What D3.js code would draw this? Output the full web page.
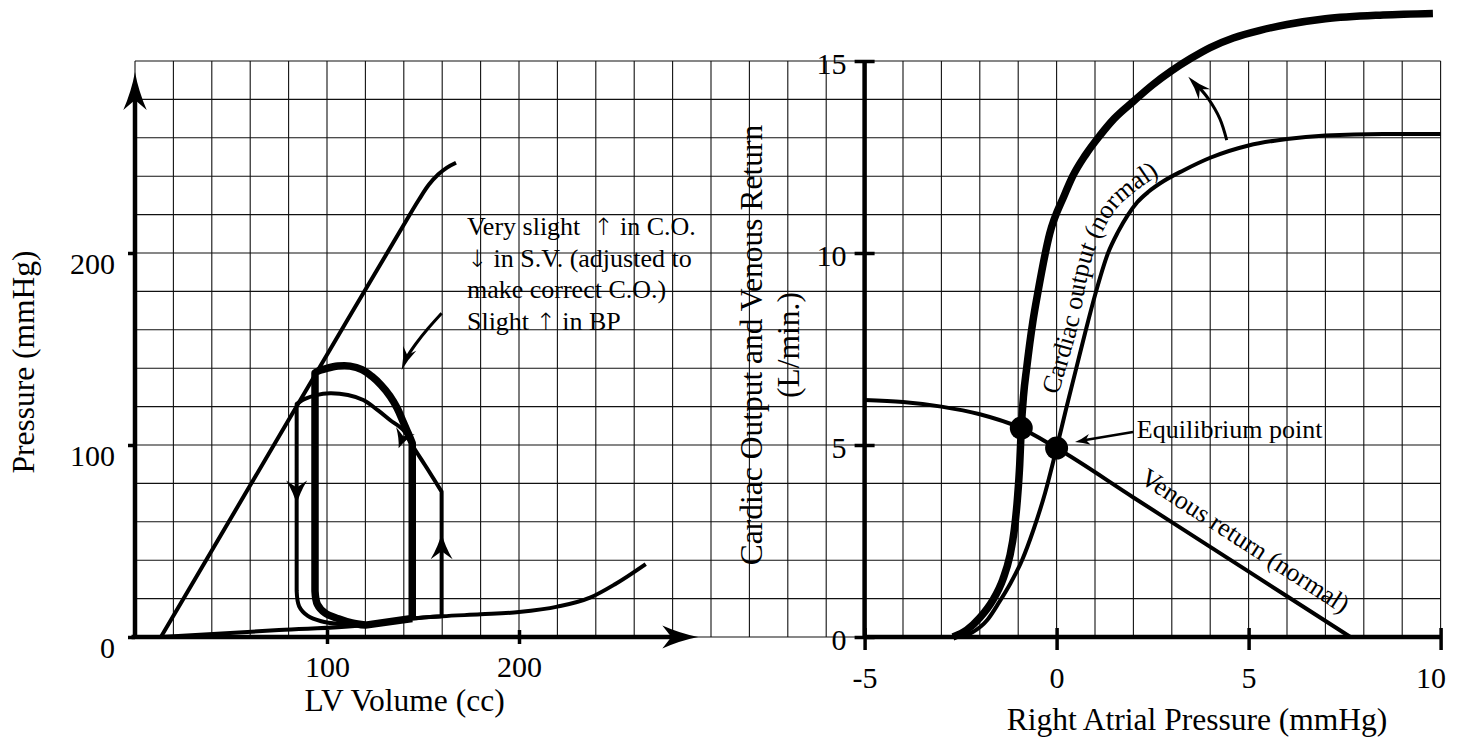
<!DOCTYPE html>
<html>
<head>
<meta charset="utf-8">
<script src="https://cdn.jsdelivr.net/npm/d3@7"></script>
<style>
  body { margin: 0; background: #fff; }
  svg { display: block; }
  text { font-family: "Liberation Serif", "Times New Roman", serif; fill: #000; }
</style>
</head>
<body>
<div id="chart"></div>
<script>
// ---------- data ----------
// left panel: LV volume (cc) vs pressure (mmHg)
const espvr = [[13.5, 0], [60, 79], [100, 147], [139, 213], [148, 228], [153, 235.5], [158, 241], [162.5, 244.5], [167.2, 247]];
const edpvr = [[13.5, 0], [75, 3.6], [120, 6.2], [144, 9.6], [160, 10.8], [180, 11.8], [200, 13], [220, 15.8], [237, 20.5], [250, 27.5], [266, 38]];

// normal PV loop (thin), split into pieces
const thinUp = [[159.7, 10.8], [159.7, 75.7]];
const thinTop = [[159.7, 75.7], [156.25, 81.25], [151, 89.6], [144.9, 99.1], [139.7, 107.8], [132.8, 113], [126.6, 118], [118.9, 123.4], [110.9, 126], [101.6, 126.9], [94.3, 126], [88.5, 124], [85.9, 122.5], [84.2, 121.4]];
const thinDown = [[84.2, 121.4], [84.2, 24]];
const thinBottom = [[84.2, 24], [85.5, 16], [90, 11], [97, 8.2], [106, 6.8], [120, 6.2]];
const thinFill = [[120, 6.2], [144, 9.6], [159.7, 10.8]];

// new PV loop (thick)
const thickUp = [[144.4, 9.6], [144.4, 101]];
const thickTop = [[144.4, 101], [142.2, 106.25], [139.7, 112], [136.5, 119.3], [132.8, 125.5], [128.1, 131.25], [123.4, 135.7], [118.2, 139.3], [112, 141.1], [105.7, 141.1], [99.5, 139.8], [95.3, 138.5], [93.75, 137.5]];
const thickDown = [[93.75, 137.5], [93.75, 24]];
const thickBottom = [[93.75, 24], [95, 17], [99, 12.5], [106, 9.5], [113, 7.3], [120, 6.2]];
const thickFill = [[120, 6.2], [144.4, 9.6]];

const leftYTicks = [0, 100, 200];
const leftXTicks = [100, 200];
const noteLines = ["Very slight\u00a0 \u2191 in C.O.", "\u2193 in S.V. (adjusted to", "make correct C.O.)", "Slight \u2191 in BP"];

// right panel: right atrial pressure (mmHg) vs L/min
const coNormal = [[-2.6, 0], [-2.2, 0.12], [-1.8, 0.45], [-1.5, 0.9], [-1.2, 1.4], [-0.9, 2.0], [-0.6, 2.8], [-0.3, 3.75], [0, 4.92], [0.25, 5.95], [0.5, 6.95], [0.75, 7.95], [1.0, 8.9], [1.34, 10.0], [1.6, 10.55], [1.85, 10.98], [2.1, 11.32], [2.4, 11.6], [2.8, 11.88], [3.3, 12.15], [4.0, 12.48], [5.0, 12.8], [6.0, 12.97], [7.0, 13.06], [8.5, 13.1], [10, 13.1]];
const coRaised = [[-2.7, 0], [-2.34, 0.18], [-2.0, 0.5], [-1.66, 0.96], [-1.4, 1.5], [-1.22, 2.1], [-1.1, 2.8], [-1.02, 3.6], [-0.96, 4.5], [-0.92, 5.44], [-0.86, 6.3], [-0.78, 7.0], [-0.62, 8.2], [-0.49, 8.96], [-0.18, 10.5], [0.2, 11.5], [0.42, 12.0], [0.75, 12.55], [1.12, 13.05], [1.5, 13.5], [2.0, 13.95], [2.5, 14.38], [3.0, 14.75], [3.5, 15.07], [4.0, 15.35], [4.6, 15.6], [5.3, 15.8], [6.0, 15.95], [7.0, 16.1], [8.5, 16.2], [9.8, 16.24]];
const venousReturn = [[-5, 6.17], [-4, 6.12], [-3, 6.0], [-2, 5.8], [-1, 5.47], [0, 4.92], [2, 3.634], [4, 2.348], [6, 1.061], [7.65, 0]];
const equilibria = [[-0.92, 5.44], [0, 4.92]];
// baseline of the curved "Cardiac output (normal)" label
const coLabelPath = [[0.04, 6.3], [0.53, 8.0], [0.97, 10.0], [1.6, 11.2], [2.7, 12.05]];

const rightYTicks = [0, 5, 10, 15];
const rightXTicks = [-5, 0, 5, 10];

// ---------- layout ----------
const W = 1463, H = 740;
const gx0 = 135, cell = 38.4, cols = 34, rows = 15;
const gx1 = gx0 + cols * cell, gy0 = 61, gy1 = gy0 + rows * cell;

const thin = 4, thick = 7.5, axisW = 4.5;

const svg = d3.select("#chart").append("svg").attr("width", W).attr("height", H);

// one graph-paper grid shared by both panels
const xL = d3.scaleLinear().domain([0, 680]).range([gx0, gx1]);
const yL = d3.scaleLinear().domain([0, 300]).range([gy1, gy0]);
const xR = d3.scaleLinear().domain([-24, 10]).range([gx0, gx1]);
const yR = d3.scaleLinear().domain([0, 15]).range([gy1, gy0]);

const grid = svg.append("g").attr("stroke", "#111").attr("stroke-width", 1.1);
grid.selectAll("line.v").data(d3.range(-24, 11)).enter().append("line")
  .attr("class", "v")
  .attr("x1", d => xR(d)).attr("x2", d => xR(d))
  .attr("y1", gy0).attr("y2", gy1);
grid.selectAll("line.h").data(d3.range(0, 16)).enter().append("line")
  .attr("class", "h")
  .attr("x1", gx0).attr("x2", gx1)
  .attr("y1", d => yR(d)).attr("y2", d => yR(d));

// helpers
const lineL = curve => d3.line().x(d => xL(d[0])).y(d => yL(d[1])).curve(curve);
const lineR = curve => d3.line().x(d => xR(d[0])).y(d => yR(d[1])).curve(curve);

const joinPath = parts => parts.map((p, i) => i ? p.replace(/^M/, "L") : p).join("");

const curvePath = (sel, d, w) => sel.append("path")
  .attr("d", d)
  .attr("fill", "none")
  .attr("stroke", "#000")
  .attr("stroke-width", w)
  .attr("stroke-linejoin", "round");

// arrow head with slightly concave sides; tip and from in pixels
function arrowHead(sel, tip, from, len, hw, notch) {
  const a = Math.atan2(tip[1] - from[1], tip[0] - from[0]);
  const ux = Math.cos(a), uy = Math.sin(a), px = -uy, py = ux;
  const b = [tip[0] - ux * len, tip[1] - uy * len];
  const n = [tip[0] - ux * notch, tip[1] - uy * notch];
  const w1 = [b[0] + px * hw, b[1] + py * hw], w2 = [b[0] - px * hw, b[1] - py * hw];
  const m = [tip[0] - ux * len * 0.5, tip[1] - uy * len * 0.5];
  const c1 = [m[0] + px * hw * 0.3, m[1] + py * hw * 0.3], c2 = [m[0] - px * hw * 0.3, m[1] - py * hw * 0.3];
  sel.append("path")
    .attr("d", `M${tip}Q${c1} ${w1}L${n}L${w2}Q${c2} ${tip}Z`)
    .attr("fill", "#000");
}

// ---------- left panel ----------
const left = svg.append("g");
curvePath(left, lineL(d3.curveMonotoneX)(espvr), thin);
curvePath(left, lineL(d3.curveMonotoneX)(edpvr), thin);

const lin = lineL(d3.curveLinear), cat = lineL(d3.curveCatmullRom.alpha(0.5));
curvePath(left, joinPath([lin(thinUp), cat(thinTop), lin(thinDown), cat(thinBottom), cat(thinFill)]), thin);
curvePath(left, joinPath([lin(thickUp), cat(thickTop), lin(thickDown), cat(thickBottom), lin(thickFill)]), thick);

// direction arrows on the loops
arrowHead(left, [xL(84.2), yL(69)], [xL(84.2), yL(90)], 24, 10.5, 17);
arrowHead(left, [xL(159.7), yL(54)], [xL(159.7), yL(30)], 26, 11, 18);
arrowHead(left, [xL(137.3), yL(98.3)], [xL(140.8), yL(107.4)], 19, 10, 13);

// note and its curved pointer (arrow glyphs set in a font that draws them tall)
const note = left.append("text").attr("font-size", 26).style("white-space", "pre");
noteLines.forEach((line, i) => {
  const parts = line.split(/([\u2191\u2193])/).filter(s => s.length);
  parts.forEach((p, j) => {
    const t = note.append("tspan").text(p);
    if (j === 0) t.attr("x", xL(172.9)).attr("y", yL(209.4) + i * 31.7);
    if (/[\u2191\u2193]/.test(p)) t.attr("font-family", "DejaVu Sans").attr("font-size", 24).attr("font-weight", 200);
  });
});

const pointer = [[159.7, 168.6], [152.5, 160.5], [146.5, 153], [142, 146.5]];
curvePath(left, lineL(d3.curveCatmullRom)(pointer), 3);
arrowHead(left, [xL(138.9), yL(139.1)], [xL(142.4), yL(148.5)], 23, 7, 16);

// axes
const lAxis = left.append("g").attr("stroke", "#000").attr("stroke-width", axisW);
lAxis.append("line").attr("x1", xL(0)).attr("x2", xL(0)).attr("y1", yL(0) + 2).attr("y2", yL(280));
lAxis.append("line").attr("x1", xL(0) - 3.5).attr("x2", xL(285)).attr("y1", yL(0)).attr("y2", yL(0));
arrowHead(left, [xL(0), yL(294.3)], [xL(0), yL(200)], 38, 11.7, 28);
arrowHead(left, [xL(293.4), yL(0)], [xL(200), yL(0)], 36, 11.5, 27);

const yAxisL = left.append("g").attr("transform", `translate(${xL(0)},0)`)
  .call(d3.axisLeft(yL).tickValues(leftYTicks).tickSize(7).tickFormat(d => String(d)));
const xAxisL = left.append("g").attr("transform", `translate(0,${yL(0)})`)
  .call(d3.axisBottom(xL).tickValues(leftXTicks).tickSize(7).tickFormat(d => String(d)));

// ---------- right panel ----------
const right = svg.append("g");
curvePath(right, lineR(d3.curveMonotoneX)(venousReturn), thin);
curvePath(right, lineR(d3.curveMonotoneX)(coNormal), thin);
curvePath(right, lineR(d3.curveMonotoneX)(coRaised), thick);

right.selectAll("circle").data(equilibria).enter().append("circle")
  .attr("cx", d => xR(d[0])).attr("cy", d => yR(d[1])).attr("r", 11.5).attr("fill", "#000");

const rAxis = right.append("g").attr("stroke", "#000").attr("stroke-width", axisW);
rAxis.append("line").attr("x1", xR(-5)).attr("x2", xR(-5)).attr("y1", yR(0)).attr("y2", yR(15));
rAxis.append("line").attr("x1", xR(-5)).attr("x2", xR(10)).attr("y1", yR(0)).attr("y2", yR(0));

const yAxisR = right.append("g").attr("transform", `translate(${xR(-5)},0)`)
  .call(d3.axisLeft(yR).tickValues(rightYTicks).tickSize(10).tickFormat(d => String(d)));
const xAxisR = right.append("g").attr("transform", `translate(0,${yR(0)})`)
  .call(d3.axisBottom(xR).tickValues(rightXTicks).tickSize(13).tickFormat(d => String(d)));

// equilibrium label
right.append("text").attr("font-size", 26)
  .attr("x", xR(2.09)).attr("y", yR(5.18)).text("Equilibrium point");
curvePath(right, lineR(d3.curveLinear)([[1.99, 5.34], [0.75, 5.13]]), 2.5);
arrowHead(right, [xR(0.48), yR(5.08)], [xR(1.99), yR(5.34)], 15, 5.5, 11);

// curve labels
svg.append("defs").append("path").attr("id", "coLabel")
  .attr("d", lineR(d3.curveCatmullRom)(coLabelPath));
right.append("text").attr("font-size", 26)
  .append("textPath").attr("href", "#coLabel")
  .text("Cardiac output (normal)");
right.append("text").attr("font-size", 26)
  .attr("transform", `translate(${xR(2.138)},${yR(4.04)}) rotate(33)`)
  .text("Venous return (normal)");

// shift arrow
const shift = [[4.43, 12.94], [4.25, 13.5], [3.95, 14.02], [3.72, 14.3]];
curvePath(right, lineR(d3.curveCatmullRom)(shift), 3);
arrowHead(right, [xR(3.43), yR(14.59)], [xR(3.88), yR(14.1)], 24, 7.7, 17);

// ---------- axis styling ----------
[yAxisL, xAxisL, yAxisR, xAxisR].forEach(a => {
  a.select(".domain").remove();
  a.selectAll(".tick line").attr("stroke", "#000").attr("stroke-width", 3.5);
  a.selectAll(".tick text").attr("font-size", 30).attr("font-family", "Liberation Serif, Times New Roman, serif").attr("fill", "#000");
});
yAxisL.selectAll(".tick text").attr("x", -20).attr("dy", "0.68em");
xAxisL.selectAll(".tick line").attr("y1", -7);
xAxisL.selectAll(".tick text").attr("y", 40).attr("dy", 0);
yAxisR.selectAll(".tick line").attr("x1", 10);
yAxisR.selectAll(".tick text").attr("x", -18).attr("dy", "0.43em");
xAxisR.selectAll(".tick line").attr("y1", -9);
xAxisR.selectAll(".tick text").attr("y", 51).attr("dy", 0)
  .attr("dx", d => d === 10 ? -10 : 0);

// ---------- axis titles ----------
svg.append("text").attr("font-size", 31.5).attr("text-anchor", "middle")
  .attr("x", (xL(0) + xL(285)) / 2 - 4).attr("y", 711).text("LV Volume (cc)");
svg.append("text").attr("font-size", 31.5).attr("text-anchor", "middle")
  .attr("transform", "translate(33.5,362) rotate(-90)").text("Pressure (mmHg)");
svg.append("text").attr("font-size", 31.5).attr("text-anchor", "middle")
  .attr("x", 1197).attr("y", 730).text("Right Atrial Pressure (mmHg)");
svg.append("text").attr("font-size", 31.5).attr("text-anchor", "middle")
  .attr("transform", "translate(762,345) rotate(-90)").text("Cardiac Output and Venous Return");
svg.append("text").attr("font-size", 31.5).attr("text-anchor", "middle")
  .attr("transform", "translate(799,345) rotate(-90)").text("(L/min.)");
</script>
</body>
</html>
